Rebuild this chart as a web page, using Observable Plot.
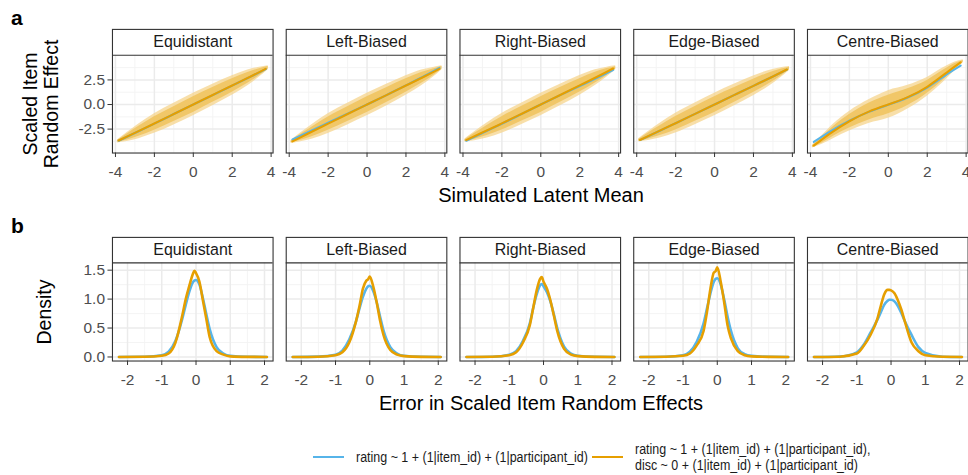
<!DOCTYPE html>
<html><head><meta charset="utf-8">
<script src="https://cdn.jsdelivr.net/npm/d3@7"></script>
<script src="https://cdn.jsdelivr.net/npm/@observablehq/plot@0.6"></script>
<style>
body{margin:0;overflow:hidden;background:#fff;font-family:"Liberation Sans",Arial,sans-serif;}
#wrap{position:relative;width:968px;height:475px;overflow:hidden;}
.abs{position:absolute;white-space:nowrap;color:#000;}
.rot{transform:translate(-50%,-50%) rotate(-90deg);text-align:center;}
.ctr{transform:translate(-50%,-50%);}
svg{position:absolute;left:0;}
</style></head><body><div id="wrap"></div>
<script>
// ---------- categories & labels ----------
const facets = ["Equidistant", "Left-Biased", "Right-Biased", "Edge-Biased", "Centre-Biased"];
const models = ["rating ~ 1 + (1|item_id) + (1|participant_id)",
  "rating ~ 1 + (1|item_id) + (1|participant_id),\ndisc ~ 0 + (1|item_id) + (1|participant_id)"];
const colors = ["#56B4E9", "#E69F00"];

// ---------- panel a: ticks ----------
const aTicksX = [-4, -2, 0, 2, 4];
const aMinorX = [-3, -1, 1, 3];
const aTicksY = [-2.5, 0, 2.5];
const aMinorY = [-3.75, -1.25, 1.25, 3.75];

// smooth lines (fitted curves), x positions and per-facet values
const smoothX = [-3.83, -3, -2, -1, 0, 1, 2, 3, 3.72];
const smoothBlue = [
  [-3.68, -2.9, -1.94, -0.97, 0, 0.96, 1.92, 2.88, 3.6],
  [-3.55, -2.78, -1.86, -0.93, 0, 0.96, 1.95, 2.95, 3.72],
  [-3.68, -2.9, -1.95, -0.98, 0, 0.95, 1.88, 2.82, 3.52],
  [-3.62, -2.84, -1.9, -0.95, 0, 0.95, 1.9, 2.85, 3.55],
  [-3.8, -2.75, -1.65, -0.75, -0.03, 0.72, 1.72, 3.05, 3.95]
];
const smoothOrange = [
  [-3.66, -2.88, -1.93, -0.97, 0, 0.97, 1.93, 2.9, 3.62],
  [-3.75, -2.92, -1.94, -0.97, 0, 0.96, 1.93, 2.9, 3.62],
  [-3.62, -2.85, -1.92, -0.96, 0, 0.97, 1.94, 2.92, 3.66],
  [-3.6, -2.83, -1.9, -0.95, 0, 0.95, 1.9, 2.85, 3.56],
  [-4.18, -2.95, -1.7, -0.72, 0, 0.75, 1.8, 3.25, 4.28]
];
// extent of the point cloud: sparse fringe (outer) and dense core (inner)
const cloudX = [-3.9, -3.4, -2.8, -2.0, -1.0, 0, 1.0, 2.0, 2.8, 3.4, 3.85];
const outerLo = [
  [-3.9, -3.75, -3.47, -2.93, -2.07, -1.15, -0.13, 0.93, 1.91, 2.79, 3.54],
  [-3.95, -3.78, -3.5, -2.94, -2.07, -1.15, -0.14, 0.93, 1.91, 2.77, 3.54],
  [-3.81, -3.68, -3.43, -2.92, -2.06, -1.15, -0.13, 0.94, 1.93, 2.8, 3.53],
  [-3.79, -3.65, -3.41, -2.9, -2.05, -1.15, -0.15, 0.9, 1.86, 2.73, 3.46],
  [-4.43, -4.05, -3.45, -2.7, -1.92, -1.4, -0.45, 0.85, 2.2, 3.4, 4.25]
];
const outerHi = [
  [-3.6, -2.85, -1.97, -0.93, 0.13, 1.15, 2.07, 2.93, 3.51, 3.79, 3.94],
  [-3.65, -2.88, -2.0, -0.94, 0.13, 1.15, 2.06, 2.93, 3.51, 3.77, 3.94],
  [-3.51, -2.78, -1.93, -0.92, 0.14, 1.15, 2.07, 2.94, 3.53, 3.8, 3.93],
  [-3.49, -2.75, -1.91, -0.9, 0.15, 1.15, 2.05, 2.9, 3.46, 3.73, 3.86],
  [-4.13, -3.15, -1.95, -0.7, 0.48, 1.4, 1.95, 2.75, 3.7, 4.3, 4.55]
];
const innerLo = [
  [-3.83, -3.6, -3.22, -2.61, -1.72, -0.8, 0.22, 1.25, 2.16, 2.94, 3.62],
  [-3.88, -3.63, -3.25, -2.62, -1.72, -0.8, 0.21, 1.25, 2.16, 2.92, 3.62],
  [-3.74, -3.53, -3.18, -2.6, -1.71, -0.8, 0.22, 1.26, 2.18, 2.95, 3.61],
  [-3.72, -3.5, -3.16, -2.58, -1.7, -0.8, 0.2, 1.22, 2.11, 2.88, 3.54],
  [-4.36, -3.9, -3.2, -2.38, -1.57, -0.95, -0.1, 1.15, 2.45, 3.55, 4.32]
];
const innerHi = [
  [-3.67, -3.0, -2.22, -1.25, -0.22, 0.8, 1.72, 2.61, 3.26, 3.64, 3.86],
  [-3.72, -3.03, -2.25, -1.26, -0.22, 0.8, 1.71, 2.61, 3.26, 3.62, 3.86],
  [-3.58, -2.93, -2.18, -1.24, -0.21, 0.8, 1.72, 2.62, 3.28, 3.65, 3.85],
  [-3.56, -2.9, -2.16, -1.22, -0.2, 0.8, 1.7, 2.58, 3.21, 3.58, 3.78],
  [-4.2, -3.3, -2.2, -1.02, 0.13, 0.95, 1.6, 2.45, 3.45, 4.15, 4.48]
];

// ---------- panel b: ticks ----------
const bTicksX = [-2, -1, 0, 1, 2];
const bMinorX = [-1.5, -0.5, 0.5, 1.5];
const bTicksY = [0, 0.5, 1, 1.5];
const bMinorY = [0.25, 0.75, 1.25];

// density curves
const densX = [-2.25, -1.5, -1.0, -0.8, -0.6, -0.4, -0.3, -0.2, -0.1, -0.05, 0, 0.1, 0.2, 0.3, 0.4, 0.6, 0.8, 1.0, 1.5, 2.07];
const densBlue = [
  [0, 0.004, 0.03, 0.09, 0.28, 0.66, 0.9, 1.12, 1.28, 1.32, 1.33, 1.25, 1.02, 0.74, 0.48, 0.17, 0.06, 0.02, 0.003, 0],
  [0, 0.006, 0.04, 0.11, 0.3, 0.62, 0.84, 1.04, 1.18, 1.22, 1.23, 1.14, 0.95, 0.7, 0.46, 0.17, 0.06, 0.02, 0.003, 0],
  [0, 0.005, 0.04, 0.1, 0.28, 0.58, 0.85, 1.08, 1.24, 1.26, 1.22, 1.12, 0.96, 0.74, 0.5, 0.18, 0.06, 0.02, 0.003, 0],
  [0, 0.005, 0.03, 0.09, 0.26, 0.58, 0.84, 1.1, 1.3, 1.35, 1.36, 1.25, 1.0, 0.7, 0.45, 0.15, 0.05, 0.02, 0.003, 0],
  [0, 0.008, 0.08, 0.21, 0.42, 0.64, 0.77, 0.9, 0.97, 0.99, 0.99, 0.96, 0.88, 0.76, 0.62, 0.38, 0.17, 0.07, 0.005, 0]
];
const densOrange = [
  [0, 0.003, 0.02, 0.06, 0.25, 0.72, 1.0, 1.22, 1.42, 1.49, 1.45, 1.3, 0.98, 0.66, 0.34, 0.1, 0.04, 0.01, 0.002, 0],
  [0, 0.005, 0.03, 0.08, 0.25, 0.62, 0.88, 1.18, 1.32, 1.34, 1.39, 1.22, 0.95, 0.63, 0.38, 0.12, 0.04, 0.015, 0.002, 0],
  [0, 0.004, 0.03, 0.08, 0.25, 0.55, 0.85, 1.15, 1.35, 1.38, 1.3, 1.18, 0.98, 0.72, 0.45, 0.14, 0.04, 0.015, 0.002, 0],
  [0, 0.004, 0.02, 0.06, 0.2, 0.45, 0.78, 1.18, 1.46, 1.48, 1.55, 1.3, 0.95, 0.55, 0.32, 0.1, 0.03, 0.01, 0.002, 0],
  [0, 0.005, 0.06, 0.19, 0.38, 0.66, 0.88, 1.08, 1.16, 1.16, 1.15, 1.1, 0.98, 0.82, 0.62, 0.25, 0.1, 0.03, 0.003, 0]
];

// ---------- build tables ----------
function seriesRows(xs, byFacet, model) {
  const out = [];
  facets.forEach((f, i) => xs.forEach((x, j) => out.push({facet: f, model, x, y: byFacet[i][j]})));
  return out;
}
function bandRows(xs, lo, hi) {
  const out = [];
  facets.forEach((f, i) => xs.forEach((x, j) => out.push({facet: f, x, lo: lo[i][j], hi: hi[i][j]})));
  return out;
}
const smoothRows = [...seriesRows(smoothX, smoothBlue, models[0]), ...seriesRows(smoothX, smoothOrange, models[1])];
const densRows = [...seriesRows(densX, densBlue, models[0]), ...seriesRows(densX, densOrange, models[1])];
const outerRows = bandRows(cloudX, outerLo, outerHi);
const innerRows = bandRows(cloudX, innerLo, innerHi);

// ---------- shared layout ----------
const W = 971, H = 185;
const ML = 112.3, MT = 29, MB = 32;
const fmt1 = d => d.toFixed(1);
const fmt0 = d => String(d);

function row({xDom, yPanel, yTop, ticksX, minorX, ticksY, minorY, yFmt, marks}) {
  const [x0, x1] = xDom, [y0, y1] = yPanel;
  return Plot.plot({
    width: W, height: H,
    marginLeft: ML, marginRight: 0.4, marginTop: MT, marginBottom: MB,
    style: {fontFamily: "'Liberation Sans', Arial, sans-serif", background: "transparent", overflow: "visible"},
    fx: {domain: facets, paddingInner: 0.0757, paddingOuter: 0, round: false, axis: null, label: null},
    x: {domain: xDom, axis: null},
    y: {domain: [y0, yTop], axis: null},
    color: {domain: models, range: colors},
    marks: [
      Plot.ruleX(minorX, {x: d => d, y1: y0, y2: y1, stroke: "#F3F3F3", strokeWidth: 0.9}),
      Plot.ruleY(minorY, {y: d => d, x1: x0, x2: x1, stroke: "#F3F3F3", strokeWidth: 0.9}),
      Plot.ruleX(ticksX, {x: d => d, y1: y0, y2: y1, stroke: "#EBEBEB", strokeWidth: 1.5}),
      Plot.ruleY(ticksY, {y: d => d, x1: x0, x2: x1, stroke: "#EBEBEB", strokeWidth: 1.5}),
      ...marks,
      Plot.ruleY([y1], {stroke: "#333333", strokeWidth: 1.1}),
      Plot.frame({stroke: "#333333", strokeWidth: 1.1}),
      Plot.text(facets, {fx: d => d, text: d => d, frameAnchor: "top", dy: 13, lineAnchor: "middle", fontSize: 16, fill: "#1A1A1A"}),
      Plot.axisX({ticks: ticksX, tickFormat: fmt0, tickSize: 4.5, tickPadding: 8.5, fontSize: 15.5, stroke: "#333333", fill: "#4D4D4D", label: null}),
      Plot.axisY({ticks: ticksY, tickFormat: yFmt, tickSize: 4.5, tickPadding: 3, fontSize: 15.5, stroke: "#333333", fill: "#4D4D4D", label: null})
    ]
  });
}

const wrap = document.getElementById("wrap");

const plotA = row({
  xDom: [-4.154, 4.10], yPanel: [-4.93, 5.0], yTop: 7.634,
  ticksX: aTicksX, minorX: aMinorX, ticksY: aTicksY, minorY: aMinorY, yFmt: fmt1,
  marks: [
    Plot.areaY(outerRows, {fx: "facet", x: "x", y1: "lo", y2: "hi", fill: "#F5D48C", fillOpacity: 0.75, curve: "monotone-x"}),
    Plot.areaY(innerRows, {fx: "facet", x: "x", y1: "lo", y2: "hi", fill: "#F0C461", fillOpacity: 0.9, curve: "monotone-x"}),
    Plot.line(smoothRows, {fx: "facet", x: "x", y: "y", z: "model", stroke: "model", strokeWidth: 2.1, curve: "natural"})
  ]
});
plotA.style.top = "0px";
wrap.appendChild(plotA);

const plotB = row({
  xDom: [-2.44, 2.25], yPanel: [-0.07, 1.626], yTop: 2.066,
  ticksX: bTicksX, minorX: bMinorX, ticksY: bTicksY, minorY: bMinorY, yFmt: fmt1,
  marks: [
    Plot.line(densRows, {fx: "facet", x: "x", y: "y", z: "model", stroke: "model", strokeWidth: 2.6, curve: "monotone-x"})
  ]
});
plotB.style.top = "208.3px";
wrap.appendChild(plotB);

// ---------- titles & legend (HTML) ----------
function addText(html, css, cls = "abs") {
  const d = document.createElement("div");
  d.className = cls;
  d.innerHTML = html;
  Object.assign(d.style, css);
  wrap.appendChild(d);
  return d;
}
addText("a", {left: "11px", top: "6px", fontSize: "21px", fontWeight: "bold"});
addText("b", {left: "11px", top: "214px", fontSize: "21px", fontWeight: "bold"});
addText("Scaled Item<br>Random Effect", {left: "41px", top: "104px", fontSize: "19.5px", lineHeight: "21px"}, "abs rot");
addText("Density", {left: "44px", top: "311.5px", fontSize: "19.5px"}, "abs rot");
addText("Simulated Latent Mean", {left: "541px", top: "195px", fontSize: "20px"}, "abs ctr");
addText("Error in Scaled Item Random Effects", {left: "541px", top: "403px", fontSize: "20px"}, "abs ctr");

// legend: swatch + label for each model
const legendLeft = [313, 592];
models.forEach((m, i) => {
  const sw = document.createElement("div");
  sw.className = "abs";
  Object.assign(sw.style, {left: legendLeft[i] + "px", top: "456px", width: "31px", height: "2.4px", background: colors[i]});
  wrap.appendChild(sw);
  const tx = document.createElement("div");
  tx.className = "abs";
  tx.innerHTML = m.replace("\n", "<br>");
  Object.assign(tx.style, {left: (legendLeft[i] + 43) + "px", top: "457px", fontSize: "14px", lineHeight: "16px",
    color: "#1A1A1A", transform: "translateY(-50%) scaleX(0.89)", transformOrigin: "left center"});
  wrap.appendChild(tx);
});
</script></body></html>
